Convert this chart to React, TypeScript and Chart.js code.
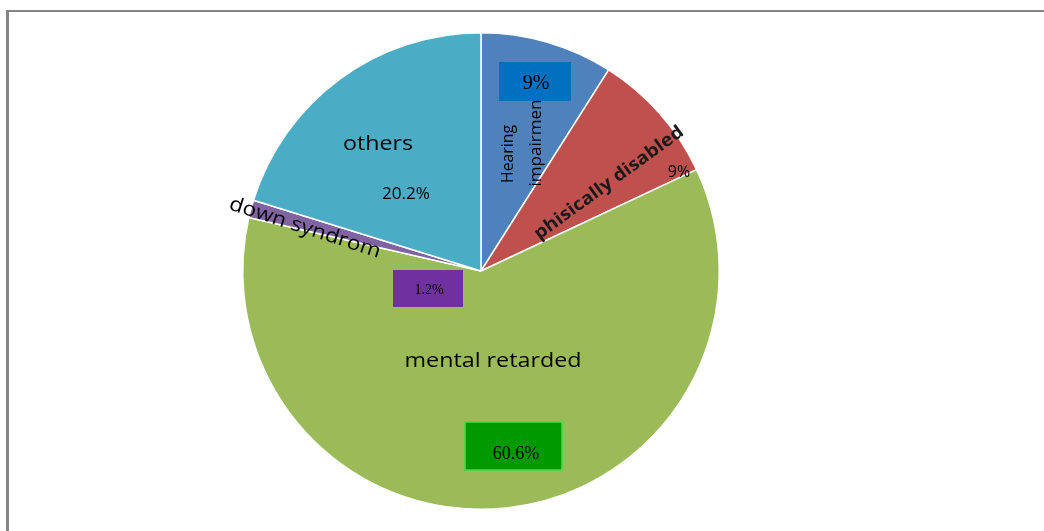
import React, { useEffect, useRef } from "react";
import { Chart, registerables } from "chart.js";

Chart.register(...registerables);

const categories = ["Hearing impairmen", "phisically disabled", "mental retarded", "down syndrom", "others"];
const values = [9, 9, 60.6, 1.2, 20.2];
const percentLabels = ["9%", "9%", "60.6%", "1.2%", "20.2%"];
const colors = ["#4F81BD", "#C0504D", "#9BBB59", "#8064A2", "#4BACC6"];

const SANS = '"Open Sans", "Noto Sans", sans-serif';
const SERIF = '"Liberation Serif", "DejaVu Serif", serif';

function drawText(ctx: CanvasRenderingContext2D, text: string, x: number, y: number, font: string, rot = 0, width?: number, color = "#000") {
  ctx.save();
  ctx.translate(x, y);
  ctx.rotate((rot * Math.PI) / 180);
  ctx.font = font;
  ctx.fillStyle = color;
  ctx.textAlign = "center";
  ctx.textBaseline = "middle";
  if (width) {
    const w = ctx.measureText(text).width;
    ctx.scale(width / w, 1);
  }
  ctx.fillText(text, 0, 0);
  ctx.restore();
}

const framePlugin = {
  id: "frame",
  beforeDraw(chart: any) {
    const ctx = chart.ctx;
    ctx.save();
    ctx.fillStyle = "#fff";
    ctx.fillRect(0, 0, chart.width, chart.height);
    ctx.fillStyle = "#858585";
    ctx.fillRect(6, 10, 3, chart.height - 10);
    ctx.fillRect(6, 10, chart.width - 6, 2);
    ctx.restore();
  },
};

const labelPlugin = {
  id: "sliceLabels",
  afterDraw(chart: any) {
    const ctx = chart.ctx as CanvasRenderingContext2D;
    const arc = chart.getDatasetMeta(0).data[0];
    const cx = arc.x;
    const cy = arc.y;
    // Hearing impairment
    ctx.save();
    ctx.fillStyle = "#0070C0";
    ctx.fillRect(cx + 18, cy - 209, 72, 39);
    ctx.restore();
    drawText(ctx, percentLabels[0], cx + 55, cy - 187, `20px ${SERIF}`);
    drawText(ctx, "Hearing", cx + 27, cy - 117, `17px ${SANS}`, -90, 58);
    drawText(ctx, "impairmen", cx + 55, cy - 128, `17px ${SANS}`, -90, 87);
    // physically disabled
    drawText(ctx, categories[1], cx + 128, cy - 88, `bold 18px ${SANS}`, -36, 180, "#1a1a1a");
    drawText(ctx, percentLabels[1], cx + 198, cy - 99, `16px ${SANS}`);
    // others
    drawText(ctx, categories[4], cx - 103, cy - 127, `20px ${SANS}`, 0, 70);
    drawText(ctx, percentLabels[4], cx - 75, cy - 77, `16px ${SANS}`, 0, 48);
    // down syndrom
    drawText(ctx, categories[3], cx - 176, cy - 43, `20px ${SANS}`, 18, 158);
    ctx.save();
    ctx.fillStyle = "#7030A0";
    ctx.fillRect(cx - 88, cy - 1, 70, 37);
    ctx.restore();
    drawText(ctx, percentLabels[3], cx - 52, cy + 19, `14px ${SERIF}`);
    // mental retarded
    drawText(ctx, categories[2], cx + 12, cy + 90, `20px ${SANS}`, 0, 177);
    ctx.save();
    ctx.fillStyle = "#009900";
    ctx.fillRect(cx - 16, cy + 151, 97, 48);
    ctx.strokeStyle = "#44dd44";
    ctx.lineWidth = 1.5;
    ctx.strokeRect(cx - 16, cy + 151, 97, 48);
    ctx.restore();
    drawText(ctx, percentLabels[2], cx + 35, cy + 183, `18px ${SERIF}`);
  },
};

export default function App() {
  const ref = useRef<HTMLCanvasElement | null>(null);
  useEffect(() => {
    if (!ref.current) return;
    const chart = new Chart(ref.current, {
      type: "pie",
      data: {
        labels: categories,
        datasets: [
          {
            data: values,
            backgroundColor: colors,
            borderColor: "#ffffff",
            borderWidth: 1.5,
          },
        ],
      },
      options: {
        responsive: false,
        animation: false,
        devicePixelRatio: 1,
        layout: { padding: { left: 242, right: 324, top: 32, bottom: 21 } },
        plugins: {
          legend: { display: false },
          tooltip: { enabled: false },
        },
      },
      plugins: [framePlugin, labelPlugin],
    });
    return () => chart.destroy();
  }, []);
  return (
    <div style={{ position: "absolute", left: 0, top: 0, width: 1044, height: 531, background: "#fff" }}>
      <canvas ref={ref} width={1044} height={531} />
    </div>
  );
}
